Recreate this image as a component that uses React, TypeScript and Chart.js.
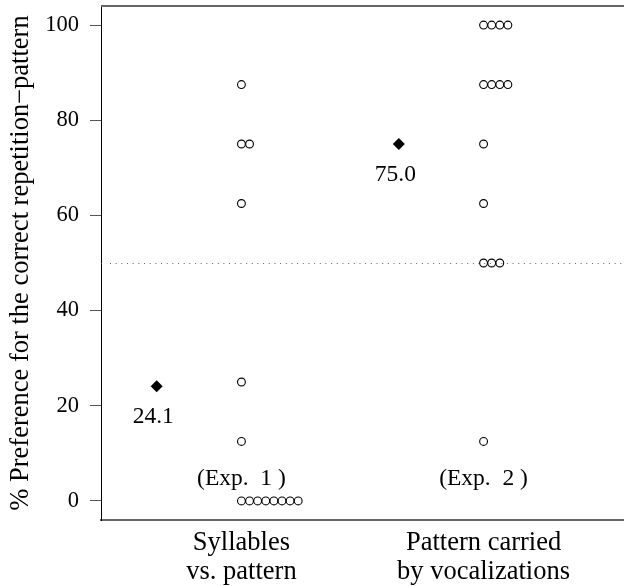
import { useEffect, useRef } from "react";
import { Chart, registerables } from "chart.js";

Chart.register(...registerables);

// ---- data ----
const GROUPS = [1, 2];
const X_LABELS = [
  ["Syllables", "vs. pattern"],
  ["Pattern carried", "by vocalizations"],
];
const EXP_LABELS = ["(Exp.  1 )", "(Exp.  2 )"];
const SYLLABLES_VALUES = [0, 0, 0, 0, 0, 0, 0, 0, 12.5, 25, 62.5, 75, 75, 87.5];
const VOCAL_VALUES = [12.5, 50, 50, 50, 62.5, 75, 87.5, 87.5, 87.5, 87.5, 100, 100, 100, 100];
const MEANS = [24.1, 75.0];
const MEAN_LABELS = ["24.1", "75.0"];
const Y_TICKS = [0, 20, 40, 60, 80, 100];
const CHANCE_LEVEL = 50;
const EXP_LABEL_Y = 5;
const Y_TITLE = "% Preference for the correct repetition\u2212pattern";

const STACK_STEP = 0.0335;
const MEAN_X_OFFSET = -0.35;
const MEAN_LABEL_X_OFFSET = -0.364;
const FONT = '"Liberation Serif", "Times New Roman", serif';

function stacked(values: number[], gx: number) {
  const counts = new Map<number, number>();
  return values.map((v) => {
    const k = counts.get(v) ?? 0;
    counts.set(v, k + 1);
    return { x: gx + k * STACK_STEP, y: v };
  });
}

const overlay = {
  id: "overlay",
  beforeDatasetsDraw(chart: any) {
    const { ctx, chartArea, scales } = chart;
    const y = scales.y;
    ctx.save();
    ctx.strokeStyle = "#666";
    ctx.lineWidth = 1;
    ctx.setLineDash([1, 4.67]);
    const py = Math.round(y.getPixelForValue(CHANCE_LEVEL)) + 0.5;
    ctx.beginPath();
    ctx.moveTo(chartArea.left + 9, py);
    ctx.lineTo(chartArea.right, py);
    ctx.stroke();
    ctx.restore();
  },
  afterDatasetsDraw(chart: any) {
    const { ctx, chartArea, scales } = chart;
    const x = scales.x;
    const y = scales.y;
    ctx.save();
    ctx.strokeStyle = "#666";
    ctx.lineWidth = 2;
    ctx.beginPath();
    ctx.moveTo(chartArea.left, chartArea.top);
    ctx.lineTo(chartArea.right, chartArea.top);
    ctx.stroke();

    ctx.fillStyle = "#000";
    ctx.font = `23.5px ${FONT}`;
    ctx.textAlign = "center";
    ctx.textBaseline = "alphabetic";
    MEAN_LABELS.forEach((t, i) => {
      const px = x.getPixelForValue(GROUPS[i] + MEAN_LABEL_X_OFFSET);
      const py = y.getPixelForValue(MEANS[i]) + 37;
      ctx.fillText(t, px, py);
    });
    EXP_LABELS.forEach((t, i) => {
      const px = x.getPixelForValue(GROUPS[i]);
      const py = y.getPixelForValue(EXP_LABEL_Y) + 7.5;
      ctx.fillText(t, px, py);
    });
    ctx.restore();
  },
};

export default function App() {
  const ref = useRef<HTMLCanvasElement | null>(null);

  useEffect(() => {
    if (!ref.current) return;
    const circles = [
      ...stacked(SYLLABLES_VALUES, GROUPS[0]),
      ...stacked(VOCAL_VALUES, GROUPS[1]),
    ];
    const means = MEANS.map((m, i) => ({ x: GROUPS[i] + MEAN_X_OFFSET, y: m }));

    const chart = new Chart(ref.current, {
      type: "scatter",
      data: {
        datasets: [
          {
            data: circles,
            pointStyle: "circle",
            pointRadius: 3.9,
            borderWidth: 1.1,
            borderColor: "#000",
            backgroundColor: "rgba(0,0,0,0)",
          },
          {
            data: means,
            pointStyle: "rectRot",
            pointRadius: 6,
            borderWidth: 0,
            borderColor: "#000",
            backgroundColor: "#000",
          },
        ],
      },
      options: {
        responsive: false,
        animation: false,
        layout: { autoPadding: false, padding: { top: 6, right: 0, left: 0, bottom: 0 } },
        plugins: {
          legend: { display: false },
          tooltip: { enabled: false },
        },
        scales: {
          x: {
            type: "linear",
            position: "bottom",
            min: 0.42,
            max: 2.58,
            grid: { display: false, drawTicks: false },
            border: { display: true, color: "#666", width: 2 },
            afterBuildTicks: (s: any) => {
              s.ticks = GROUPS.map((v) => ({ value: v }));
            },
            afterFit: (s: any) => {
              s.height = 66;
              s.paddingLeft = 0;
              s.paddingRight = 0;
              s.paddingTop = 0;
              s.paddingBottom = 0;
            },
            ticks: {
              color: "#000",
              font: { family: FONT, size: 26.5, lineHeight: 1.1 },
              padding: 8,
              maxRotation: 0,
              autoSkip: false,
              callback: (v: any) => X_LABELS[GROUPS.indexOf(Number(v))] ?? "",
            },
          },
          y: {
            type: "linear",
            min: -4,
            max: 104,
            grid: {
              display: true,
              drawOnChartArea: false,
              drawTicks: true,
              tickLength: 11,
              color: "#555",
            },
            border: { display: true, color: "#000", width: 1 },
            afterBuildTicks: (s: any) => {
              s.ticks = Y_TICKS.map((v) => ({ value: v }));
            },
            afterFit: (s: any) => {
              s.width = 101;
              s.paddingLeft = 0;
              s.paddingRight = 0;
              s.paddingTop = 0;
              s.paddingBottom = 0;
            },
            ticks: {
              color: "#000",
              font: { family: FONT, size: 22.5 },
              padding: 11,
              callback: (v: any) => String(v),
            },
            title: {
              display: true,
              text: Y_TITLE,
              color: "#000",
              font: { family: FONT, size: 26.5 },
              padding: { top: 5, bottom: 0 },
            },
          },
        },
      },
      plugins: [overlay],
    });
    return () => chart.destroy();
  }, []);

  return (
    <div style={{ position: "absolute", left: 0, top: 0, width: 624, height: 586, background: "#fff" }}>
      <canvas ref={ref} width={624} height={586} style={{ display: "block" }} />
    </div>
  );
}
